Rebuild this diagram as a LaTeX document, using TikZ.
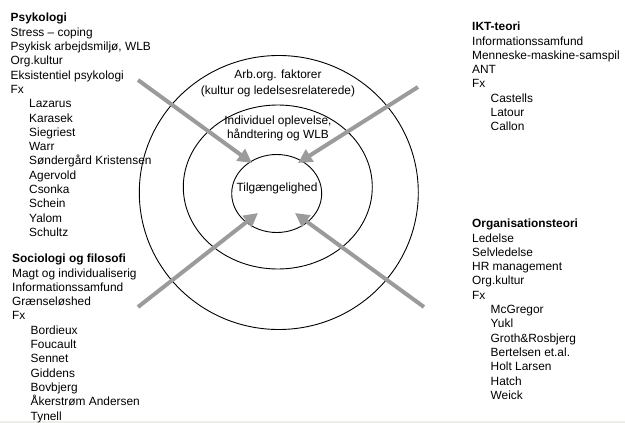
\documentclass[tikz,border=0pt]{standalone}
\usepackage{fontspec}
\setmainfont{Liberation Sans}
\usetikzlibrary{arrows.meta}
\definecolor{arrowgray}{RGB}{155,155,155}
\definecolor{stripgray}{RGB}{238,238,232}
\newcommand{\fl}{\rule{0pt}{11pt}}
\newcommand{\ind}{\hspace*{18.5pt}}
\begin{document}
\begin{tikzpicture}[x=1pt,y=-1pt,
  txt/.style={font=\fontsize{11.9}{14.3}\selectfont, inner sep=0pt, align=left, anchor=north west},
  lbl/.style={font=\fontsize{11.9}{14.3}\selectfont, inner sep=0pt, anchor=base},
  ring/.style={draw=black, line width=0.9pt},
  arr/.style={draw=arrowgray, line width=4pt, -{Triangle[length=14pt,width=14pt]}}]
\useasboundingbox (0,0) rectangle (625,423);
\fill[stripgray] (0,420.5) rectangle (625,423);

% rings
\draw[ring] (278.8,192.5) ellipse [x radius=139.5pt, y radius=137pt];
\draw[ring] (277.8,187) ellipse [x radius=94.5pt, y radius=82pt];
\draw[ring] (276.7,193.5) ellipse [x radius=45pt, y radius=39pt];

% ring labels
\node[lbl] (arb) at (278,78) {Arb.org. faktorer};
\node[lbl] (kult) at (278,94) {(kultur og ledelsesrelaterede)};
\node[lbl] (indiv) at (278,124.5) {Individuel oplevelse,};
\node[lbl] (hand) at (278,138.5) {håndtering og WLB};
\node[lbl] (tilg) at (277,191.5) {Tilgængelighed};

% arrows
\coordinate (s1) at (138,80);  \coordinate (t1) at (252,163);
\coordinate (s2) at (418,87);  \coordinate (t2) at (298,163);
\coordinate (s3) at (138,307); \coordinate (t3) at (258,213);
\coordinate (s4) at (424,307); \coordinate (t4) at (295,213);
\draw[arr] (s1) -- (t1);
\draw[arr] (s2) -- (t2);
\draw[arr] (s3) -- (t3);
\draw[arr] (s4) -- (t4);

% text blocks
\node[txt] (psy) at (10.5,10.7) {\fl\textbf{Psykologi}\\
Stress – coping\\
Psykisk arbejdsmiljø, WLB\\
Org.kultur\\
Eksistentiel psykologi\\
Fx\\
\ind Lazarus\\
\ind Karasek\\
\ind Siegriest\\
\ind Warr\\
\ind Søndergård Kristensen\\
\ind Agervold\\
\ind Csonka\\
\ind Schein\\
\ind Yalom\\
\ind Schultz};

\node[txt] (soc) at (12,251.5) {\fl\textbf{Sociologi og filosofi}\\
Magt og individualiserig\\
Informationssamfund\\
Grænseløshed\\
Fx\\
\ind Bordieux\\
\ind Foucault\\
\ind Sennet\\
\ind Giddens\\
\ind Bovbjerg\\
\ind Åkerstrøm Andersen\\
\ind Tynell};

\node[txt] (ikt) at (472,19.5) {\fl\textbf{IKT-teori}\\
Informationssamfund\\
Menneske-maskine-samspil\\
ANT\\
Fx\\
\ind Castells\\
\ind Latour\\
\ind Callon};

\node[txt] (org) at (472,216.5) {\fl\textbf{Organisationsteori}\\
Ledelse\\
Selvledelse\\
HR management\\
Org.kultur\\
Fx\\
\ind McGregor\\
\ind Yukl\\
\ind Groth\&Rosbjerg\\
\ind Bertelsen et.al.\\
\ind Holt Larsen\\
\ind Hatch\\
\ind Weick};
\end{tikzpicture}
\end{document}
